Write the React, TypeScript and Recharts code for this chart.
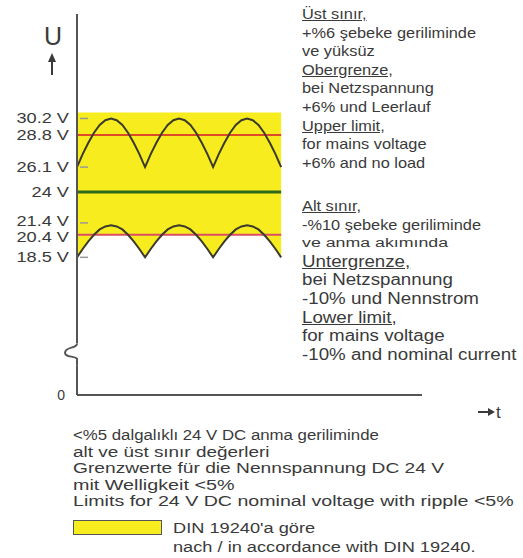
import React from 'react'
import { ComposedChart, Area, Line, XAxis, YAxis, ReferenceLine, ReferenceDot } from 'recharts'

// ripple shape of one half-wave (V)
const upperArc = [26.1, 27.2, 28.15, 29.0, 29.65, 30.05, 30.2, 30.05, 29.65, 29.0, 28.15, 27.2, 26.1]
const lowerArc = [18.5, 19.2, 19.85, 20.4, 20.85, 21.1, 21.2, 21.1, 20.85, 20.4, 19.85, 19.2, 18.5]
const arcCount = 3

const yTicks = [30.2, 28.8, 26.1, 24, 21.4, 20.4, 18.5]
const dashTicks = [30.2, 26.1, 21.4, 18.5]
const upperLimit = 28.8
const nominal = 24
const lowerLimit = 20.4
const bandTop = 30.7

// broken axis: the floor of the scale is drawn as "0"
const axisFloor = 6.9
const axisTop = 39
const axisBreak = 10.3
const xEnd = 5.07

const rightTop = [
  { text: 'Üst sınır,', head: true },
  { text: '+%6 şebeke geriliminde' },
  { text: 've yüksüz' },
  { text: 'Obergrenze,', head: true },
  { text: 'bei Netzspannung' },
  { text: '+6% und Leerlauf' },
  { text: 'Upper limit,', head: true },
  { text: 'for mains voltage' },
  { text: '+6% and no load' },
]
const rightBottom = [
  { text: 'Alt sınır,', head: true, tr: true },
  { text: '-%10 şebeke geriliminde', tr: true },
  { text: 've anma akımında', small: true },
  { text: 'Untergrenze,', head: true },
  { text: 'bei Netzspannung' },
  { text: '-10% und Nennstrom' },
  { text: 'Lower limit,', head: true },
  { text: 'for mains voltage' },
  { text: '-10% and nominal current' },
]
const footLines = [
  '<%5 dalgalıklı 24 V DC anma geriliminde',
  'alt ve üst sınır değerleri',
  'Grenzwerte für die Nennspannung DC 24 V',
  'mit Welligkeit <5%',
  'Limits for 24 V DC nominal voltage with ripple <5%',
]
const legendLines = ["DIN 19240'a göre", 'nach / in accordance with DIN 19240.']

const steps = upperArc.length - 1
const data = Array.from({ length: arcCount * steps + 1 }, (_, k) => {
  const up = upperArc[k % steps]
  const lo = lowerArc[k % steps]
  return { t: k / steps, upper: up, lower: lo, band: [Math.min(lowerLimit, lo), bandTop] }
})

const FONT = '"Liberation Sans", Arial, sans-serif'
const INK = '#3a3a3a'
const YELLOW = '#f6ec1e'
const footStretch = [1.2, 1.35, 1.37, 1.41, 1.4]
const labelNudge: Record<string, number> = { '21.4': -2, '20.4': 2 }

const VoltTick = (props: any) => {
  const { x, y, payload } = props
  const v = payload.value
  if (v === axisFloor) {
    return (
      <text x={x - 4} y={y} dy="0.35em" textAnchor="end" fontFamily={FONT} fontSize={14} fill={INK}>
        0
      </text>
    )
  }
  const ty = y + (labelNudge[String(v)] || 0)
  return (
    <g>
      <text transform={`translate(${x},${ty}) scale(1.3,1)`} dy="0.35em" textAnchor="end" fontFamily={FONT} fontSize={14} fill={INK}>
        {`${v} V`}
      </text>
      {dashTicks.includes(v) && <line x1={x + 11} x2={x + 19} y1={y} y2={y} stroke="#999" strokeWidth={1.5} />}
    </g>
  )
}

const Squiggle = (props: any) => {
  const { cx, cy } = props
  return (
    <path
      d={`M${cx},${cy - 11} C${cx},${cy - 6} ${cx - 12},${cy - 8} ${cx - 12},${cy - 2} C${cx - 12},${cy + 3} ${cx - 3},${cy + 1} ${cx},${cy + 4} L${cx},${cy + 11}`}
      fill="none"
      stroke="#555"
      strokeWidth={2}
    />
  )
}

type Row = { text: string; head?: boolean; small?: boolean; tr?: boolean }

const lineStyle = (l: Row, big: boolean): React.CSSProperties => {
  if (l.small) return { fontSize: 12.5, transform: 'scaleX(1.42)' }
  if (big && !l.tr) return { fontSize: 16, transform: 'scaleX(1.17)' }
  return { fontSize: 15, transform: 'scaleX(1.09)' }
}

const textBlock = (lines: Row[], top: number, big: boolean) => (
  <div style={{ position: 'absolute', left: 302, top, fontFamily: FONT, lineHeight: '18.6px', color: INK, whiteSpace: 'nowrap' }}>
    {lines.map((l, i) => (
      <div key={i} style={{ textDecoration: l.head ? 'underline' : 'none', transformOrigin: 'left center', ...lineStyle(l, big) }}>
        {l.text}
      </div>
    ))}
  </div>
)

const App: React.FC = () => (
  <div style={{ position: 'absolute', left: 0, top: 0, width: 523, height: 558, background: '#fff', overflow: 'hidden' }}>
    <ComposedChart width={523} height={558} data={data} margin={{ top: 14, right: 101, bottom: 163, left: 0 }}>
      <XAxis dataKey="t" type="number" domain={[0, xEnd]} tick={false} tickLine={false} height={0} axisLine={false} />
      <YAxis
        type="number"
        domain={[axisFloor, axisTop]}
        ticks={[axisFloor, ...yTicks]}
        interval={0}
        width={77}
        tickSize={0}
        tickMargin={8}
        axisLine={false}
        tick={<VoltTick />}
      />
      <Area dataKey="band" type="linear" fill={YELLOW} fillOpacity={1} stroke="none" isAnimationActive={false} />
      <ReferenceLine segment={[{ x: 0, y: upperLimit }, { x: arcCount, y: upperLimit }]} stroke="#dd4a26" strokeWidth={2} />
      <ReferenceLine segment={[{ x: 0, y: nominal }, { x: arcCount, y: nominal }]} stroke="#2e6a1c" strokeWidth={3} />
      <ReferenceLine segment={[{ x: 0, y: lowerLimit }, { x: arcCount, y: lowerLimit }]} stroke="#dc4c62" strokeWidth={2} />
      <Line dataKey="upper" type="linear" stroke="#3b3a2c" strokeWidth={2} dot={false} isAnimationActive={false} />
      <Line dataKey="lower" type="linear" stroke="#3b3a2c" strokeWidth={2} dot={false} isAnimationActive={false} />
      {/* axes drawn by hand so the vertical one can carry the break mark */}
      <ReferenceLine segment={[{ x: 0, y: axisTop }, { x: 0, y: axisBreak + 0.93 }]} stroke="#555" strokeWidth={2} />
      <ReferenceLine segment={[{ x: 0, y: axisBreak - 0.93 }, { x: 0, y: axisFloor }]} stroke="#555" strokeWidth={2} />
      <ReferenceLine segment={[{ x: 0, y: axisFloor }, { x: xEnd, y: axisFloor }]} stroke="#555" strokeWidth={2} />
      <ReferenceDot x={0} y={axisBreak} r={0} shape={<Squiggle />} />
    </ComposedChart>

    <svg width={523} height={558} style={{ position: 'absolute', left: 0, top: 0, pointerEvents: 'none' }}>
      <text x={53} y={45} textAnchor="middle" fontFamily={FONT} fontSize={25} fill={INK}>U</text>
      <line x1={52} y1={75} x2={52} y2={60} stroke={INK} strokeWidth={2} />
      <polygon points="48,62 56,62 52,53" fill={INK} />
      <line x1={478} y1={412} x2={490} y2={412} stroke={INK} strokeWidth={2} />
      <polygon points="488,408 488,416 495,412" fill={INK} />
      <text x={496} y={418} fontFamily={FONT} fontSize={17} fill={INK}>t</text>
    </svg>

    {textBlock(rightTop, 5, false)}
    {textBlock(rightBottom, 197, true)}

    <div style={{ position: 'absolute', left: 73, top: 427, fontFamily: FONT, fontSize: 14, lineHeight: '16.5px', color: INK, whiteSpace: 'nowrap' }}>
      {footLines.map((l, i) => (
        <div key={i} style={{ transform: `scaleX(${footStretch[i]})`, transformOrigin: 'left center' }}>{l}</div>
      ))}
    </div>
    <div style={{ position: 'absolute', left: 73, top: 520, width: 87, height: 13, background: YELLOW, border: '1.5px solid #555' }} />
    <div style={{ position: 'absolute', left: 173, top: 519, fontFamily: FONT, fontSize: 14, lineHeight: '18.5px', color: INK, whiteSpace: 'nowrap' }}>
      {legendLines.map((l, i) => (
        <div key={i} style={{ transform: 'scaleX(1.3)', transformOrigin: 'left center' }}>{l}</div>
      ))}
    </div>
  </div>
)

export default App
